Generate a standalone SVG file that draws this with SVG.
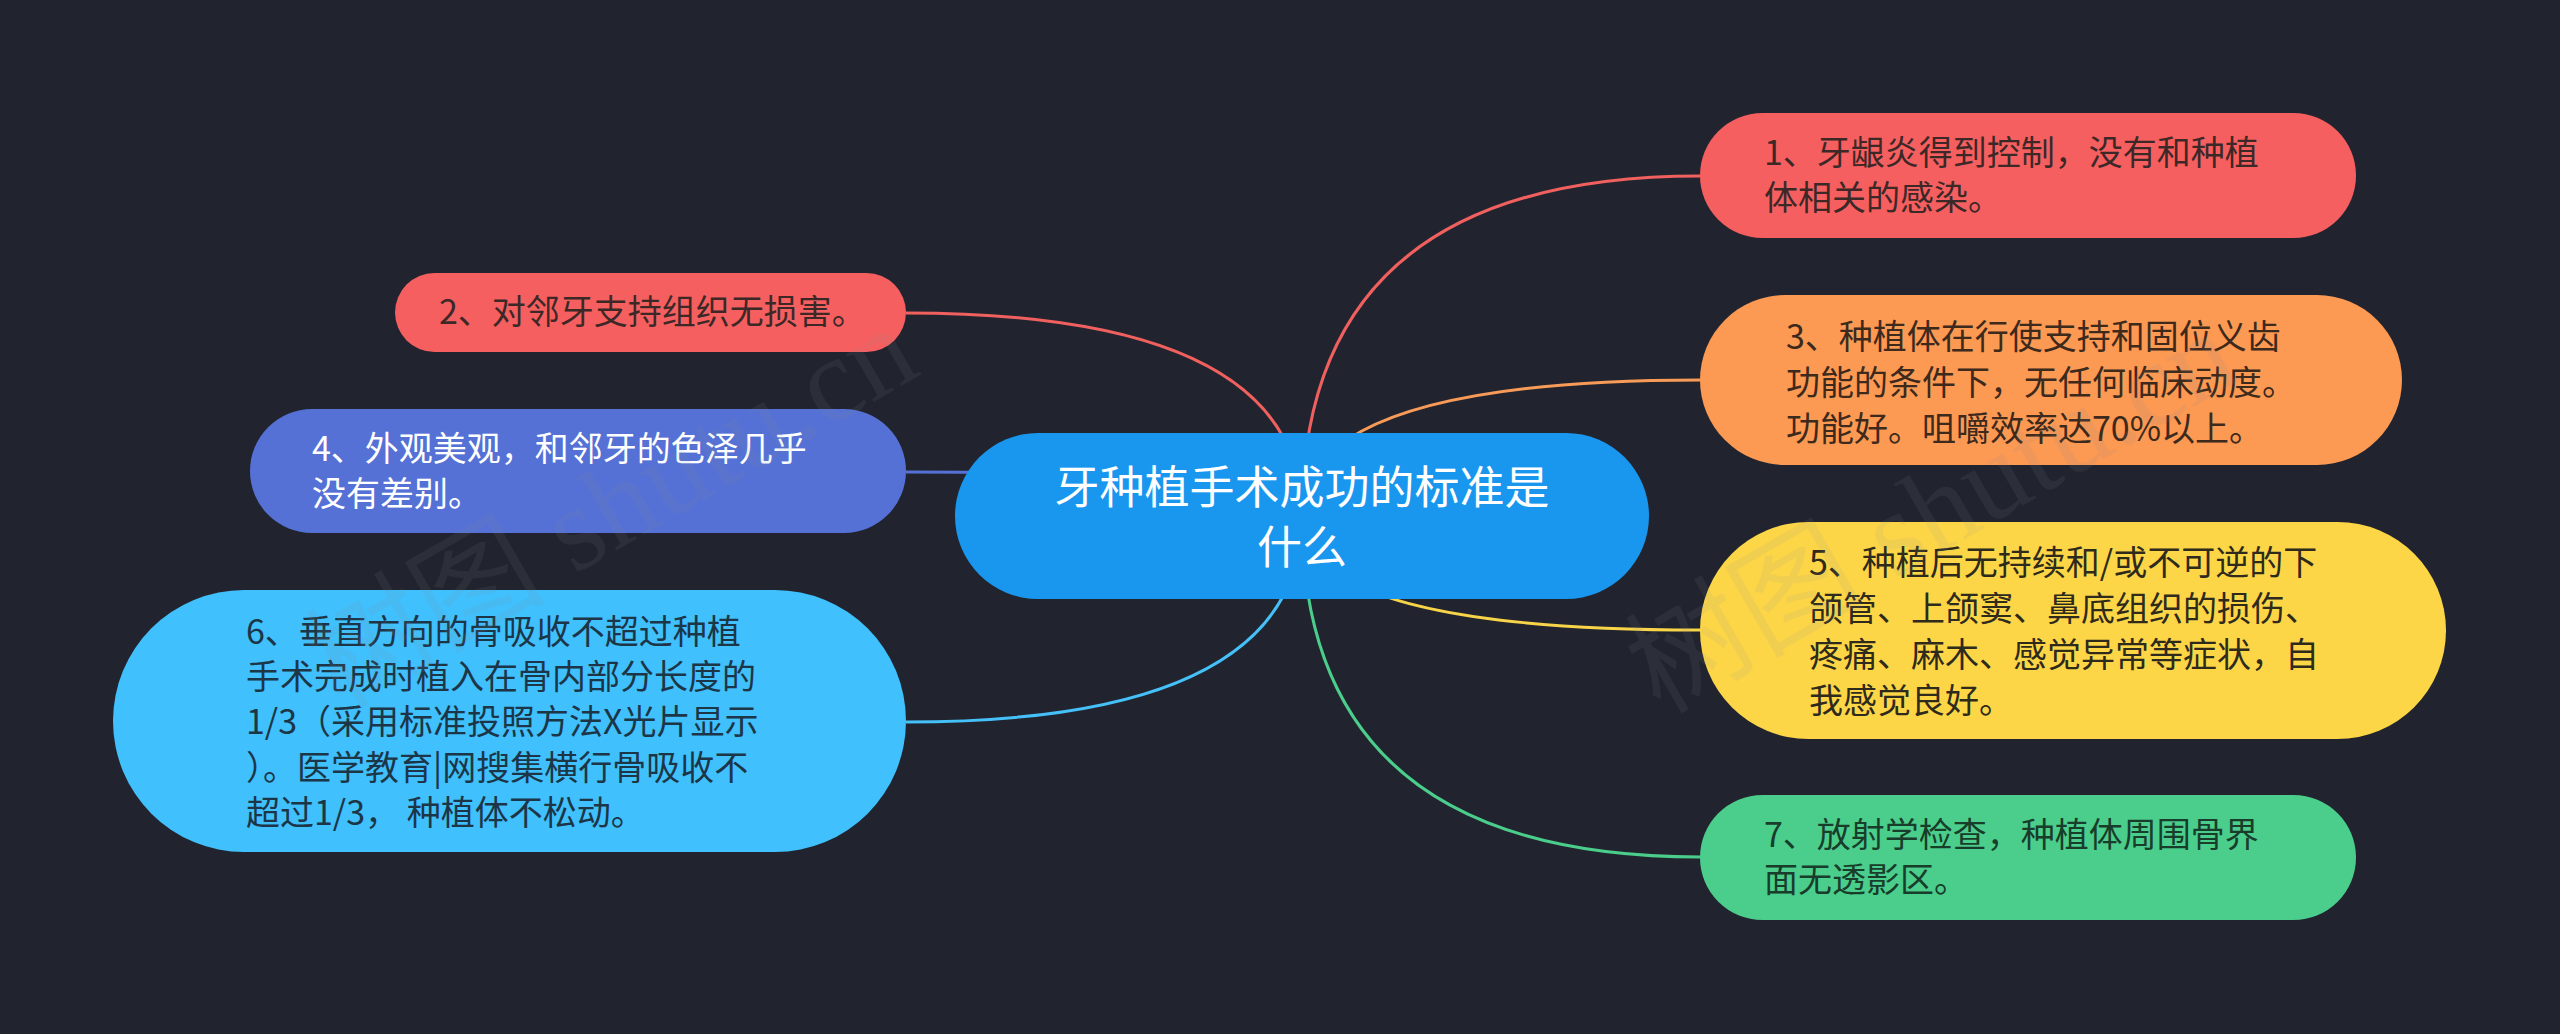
<svg xmlns="http://www.w3.org/2000/svg" width="2560" height="1034" viewBox="0 0 2560 1034">
<style>
.link{fill:none;stroke-width:3}
.t{font-family:"Noto Sans CJK SC","Noto Sans",sans-serif;font-size:34px}
.c{font-family:"Noto Sans CJK SC","Noto Sans",sans-serif;font-size:45px;fill:#ffffff;text-anchor:middle}
.wm{font-family:"Liberation Serif","Noto Sans CJK SC",serif;font-size:120px;fill:#8a8f9c;opacity:0.10}
</style>
<rect x="0" y="0" width="2560" height="1034" fill="#21242f"/>
<g id="connectors">
<path class="link" stroke="#f0605f" d="M1302,516 Q1302,176 1700,176"/>
<path class="link" stroke="#f99b58" d="M1302,516 Q1302,380 1700,380"/>
<path class="link" stroke="#f8d448" d="M1302,516 Q1302,630 1700,630"/>
<path class="link" stroke="#4bcd8c" d="M1302,516 Q1302,857 1700,857"/>
<path class="link" stroke="#f0605f" d="M1302,516 Q1302,313 906,313"/>
<path class="link" stroke="#5571d5" d="M1302,516 Q1302,472 906,472"/>
<path class="link" stroke="#45c0f8" d="M1302,516 Q1302,722 906,722"/>
</g>
<g id="center">
<rect x="955" y="433" width="694" height="166" rx="83" fill="#1997ee"/>
<text class="c"><tspan x="1302" y="504">牙种植手术成功的标准是</tspan><tspan x="1302" y="564">什么</tspan></text>
</g>
<g id="node1">
<rect x="1700" y="113" width="656" height="125" rx="62.5" fill="#f65f5f"/>
<text class="t" fill="#3d2828"><tspan x="1764" y="165">1、牙龈炎得到控制，没有和种植</tspan><tspan x="1764" y="210">体相关的感染。</tspan></text>
</g>
<g id="node3">
<rect x="1700" y="295" width="702" height="170" rx="85" fill="#fc9953"/>
<text class="t" fill="#3d2a1c"><tspan x="1786" y="349">3、种植体在行使支持和固位义齿</tspan><tspan x="1786" y="395">功能的条件下，无任何临床动度。</tspan><tspan x="1786" y="441">功能好。咀嚼效率达70%以上。</tspan></text>
</g>
<g id="node5">
<rect x="1700" y="522" width="746" height="217" rx="108.5" fill="#fdd647"/>
<text class="t" fill="#2e2a1c"><tspan x="1809" y="575">5、种植后无持续和/或不可逆的下</tspan><tspan x="1809" y="621">颌管、上颌窦、鼻底组织的损伤、</tspan><tspan x="1809" y="667">疼痛、麻木、感觉异常等症状，自</tspan><tspan x="1809" y="713">我感觉良好。</tspan></text>
</g>
<g id="node7">
<rect x="1700" y="795" width="656" height="125" rx="62.5" fill="#4bcd8c"/>
<text class="t" fill="#183d2a"><tspan x="1764" y="847">7、放射学检查，种植体周围骨界</tspan><tspan x="1764" y="892">面无透影区。</tspan></text>
</g>
<g id="node2">
<rect x="395" y="273" width="511" height="79" rx="39.5" fill="#f65f5f"/>
<text class="t" fill="#3d2828"><tspan x="439" y="324">2、对邻牙支持组织无损害。</tspan></text>
</g>
<g id="node4">
<rect x="250" y="409" width="656" height="124" rx="62" fill="#5571d5"/>
<text class="t" fill="#ffffff"><tspan x="312" y="461">4、外观美观，和邻牙的色泽几乎</tspan><tspan x="312" y="506">没有差别。</tspan></text>
</g>
<g id="node6">
<rect x="113" y="590" width="793" height="262" rx="131" fill="#40c0fc"/>
<text class="t" fill="#1c3647"><tspan x="246" y="644">6、垂直方向的骨吸收不超过种植</tspan><tspan x="246" y="689">手术完成时植入在骨内部分长度的</tspan><tspan x="246" y="734">1/3（采用标准投照方法X光片显示</tspan><tspan x="246" y="780">）。医学教育|网搜集横行骨吸收不</tspan><tspan x="246" y="825">超过1/3， 种植体不松动。</tspan></text>
</g>
<g id="watermark">
<text class="wm" x="340" y="710" transform="rotate(-30 340 710)">树图 shutu.cn</text>
<text class="wm" x="1660" y="715" transform="rotate(-30 1660 715)">树图 shutu.cn</text>
</g>
</svg>
